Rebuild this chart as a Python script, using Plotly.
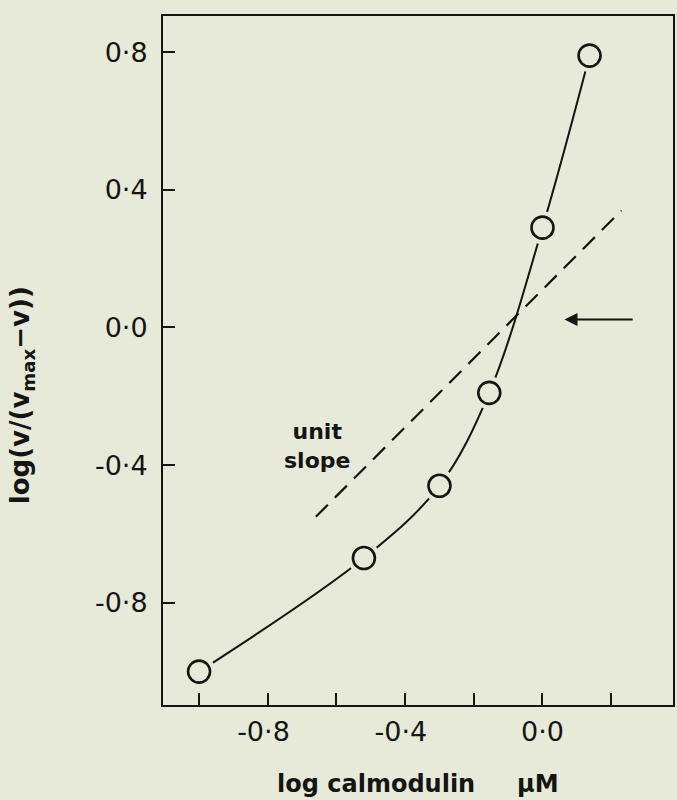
import plotly.graph_objects as go

# Hill-type plot: log(v/(vmax - v)) against log [calmodulin]
log_calmodulin = [-1.0, -0.52, -0.30, -0.155, 0.0, 0.137]
log_ratio = [-1.0, -0.67, -0.46, -0.19, 0.29, 0.79]

# reference line of unit slope
unit_x = [-0.66, 0.23]
unit_y = [-0.55, 0.34]

# arrow marking the half-saturation level
arrow_y = 0.023
arrow_head_x = 0.064
arrow_tail_x = 0.267

x_tick_vals = [-0.8, -0.4, 0.0]
x_tick_text = ["-0·8\u00a0", "-0·4\u00a0", "0·0"]
x_minor_vals = [-1.0, -0.6, -0.2, 0.2]
y_tick_vals = [-0.8, -0.4, 0.0, 0.4, 0.8]
y_tick_text = ["-0·8", "-0·4", "0·0", "0·4", "0·8"]

BG = "#e7e9d9"
INK = "#141414"
LABEL_FONT = "DejaVu Sans"

fig = go.Figure()

fig.add_trace(go.Scatter(
    x=unit_x, y=unit_y, mode="lines",
    line=dict(color=INK, width=2.2, dash="17px,10px"),
    hoverinfo="skip",
))

fig.add_trace(go.Scatter(
    x=log_calmodulin, y=log_ratio, mode="lines",
    line=dict(color=INK, width=2, shape="spline", smoothing=1.0),
    hoverinfo="skip",
))

# clear a small ring round each point so the curve stops short of the circles
fig.add_trace(go.Scatter(
    x=log_calmodulin, y=log_ratio, mode="markers",
    marker=dict(symbol="circle", size=33, color=BG, line=dict(width=0)),
    hoverinfo="skip",
))

fig.add_trace(go.Scatter(
    x=log_calmodulin, y=log_ratio, mode="markers",
    marker=dict(symbol="circle", size=22, color=BG,
                line=dict(color=INK, width=2.6)),
))

fig.add_annotation(
    x=arrow_head_x, y=arrow_y, ax=arrow_tail_x, ay=arrow_y,
    xref="x", yref="y", axref="x", ayref="y",
    text="", showarrow=True, arrowhead=2, arrowsize=1.3,
    arrowwidth=2, arrowcolor=INK, standoff=0,
)

fig.add_annotation(
    x=-0.657, y=-0.345, xref="x", yref="y",
    text="<b>unit<br>slope</b>", showarrow=False,
    font=dict(family=LABEL_FONT, size=22, color=INK),
    align="center",
)

fig.add_annotation(
    x=0.5, y=-0.115, xref="paper", yref="paper",
    text="<b>log calmodulin\u00a0\u00a0\u00a0\u00a0\u00a0μM</b>", showarrow=False,
    font=dict(family=LABEL_FONT, size=24, color=INK),
    xanchor="center", yanchor="middle",
)

fig.add_annotation(
    x=-0.276, y=0.45, xref="paper", yref="paper",
    text="<b>log(v/(v<sub>max</sub>−v))</b>", showarrow=False,
    textangle=-90,
    font=dict(family=LABEL_FONT, size=26, color=INK),
    xanchor="center", yanchor="middle",
)

axis_common = dict(
    showgrid=False, zeroline=False, showline=True, linecolor=INK,
    linewidth=2, mirror=True, ticks="inside", ticklen=12, tickwidth=2,
    tickcolor=INK, tickfont=dict(family=LABEL_FONT, size=27, color=INK),
)

fig.update_xaxes(
    range=[-1.105, 0.38], tickmode="array",
    tickvals=x_tick_vals, ticktext=x_tick_text,
    minor=dict(tickmode="array", tickvals=x_minor_vals, ticks="inside",
               ticklen=12, tickwidth=2, tickcolor=INK, showgrid=False),
    ticklabelstandoff=2, **axis_common,
)
fig.update_yaxes(
    range=[-1.097, 0.905], tickmode="array",
    tickvals=y_tick_vals, ticktext=y_tick_text,
    ticklabelstandoff=8, **axis_common,
)

fig.update_layout(
    width=677, height=800,
    margin=dict(l=163, r=2, t=16, b=95),
    paper_bgcolor=BG, plot_bgcolor=BG,
    showlegend=False,
)

fig.write_html("out.html")
